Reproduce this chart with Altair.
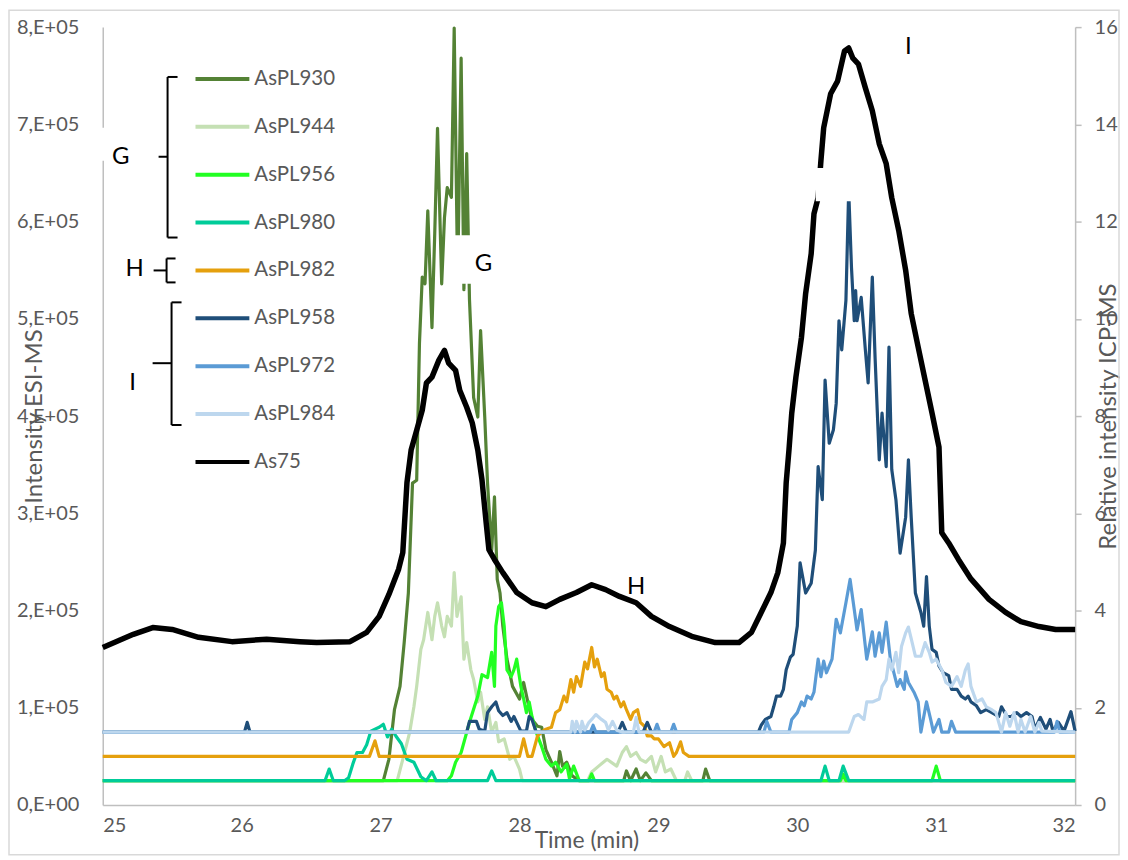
import altair as alt
import pandas as pd

# retention time (min) and ESI-MS intensity (thousands of counts)
t930 = [25.00, 27.02, 27.06, 27.10, 27.14, 27.17, 27.20, 27.23, 27.26, 27.28, 27.30, 27.32, 27.34,
        27.37, 27.39, 27.41, 27.44, 27.46, 27.48, 27.51, 27.53, 27.555, 27.58, 27.60, 27.62, 27.64,
        27.67, 27.70, 27.72, 27.75, 27.77, 27.80, 27.82, 27.84, 27.86, 27.88, 27.91, 27.95, 28.00,
        28.03, 28.06, 28.09, 28.13, 28.16, 28.19, 28.23, 28.27, 28.29, 28.31, 28.34, 28.38, 28.43,
        28.75, 28.77, 28.80, 28.84, 28.87, 28.91, 28.95, 29.32, 29.34, 29.37, 32.00]
v930 = [25, 25, 47, 98, 122, 167, 218, 331, 334, 475, 543, 536, 611, 491, 588, 696, 536, 604, 635,
        625, 799, 540, 768, 530, 670, 520, 419, 399, 488, 399, 331, 262, 317, 232, 218, 184, 150,
        122, 109, 126, 106, 88, 81, 80, 57, 44, 30, 55, 40, 44, 30, 25, 25, 35, 25, 37, 25, 33, 25,
        25, 37, 25, 25]

t944 = [25.00, 27.12, 27.16, 27.21, 27.24, 27.26, 27.29, 27.31, 27.34, 27.37, 27.39, 27.41, 27.44,
        27.46, 27.48, 27.51, 27.53, 27.55, 27.58, 27.60, 27.62, 27.65, 27.67, 27.70, 27.72, 27.75,
        27.77, 27.80, 27.83, 27.85, 27.89, 27.93, 27.96, 28.00, 28.02, 28.49, 28.52, 28.57, 28.63,
        28.70, 28.74, 28.77, 28.80, 28.84, 28.87, 28.91, 28.95, 28.98, 29.02, 29.05, 29.09, 29.13,
        29.19, 29.21, 29.24, 32.00]
v944 = [25, 25, 47, 75, 101, 122, 160, 170, 198, 170, 194, 208, 184, 173, 194, 184, 239, 194, 214,
        150, 167, 139, 129, 106, 116, 88, 101, 75, 85, 65, 68, 47, 50, 37, 25, 25, 34, 40, 47, 40,
        54, 60, 50, 54, 47, 44, 50, 34, 50, 34, 37, 25, 25, 34, 25, 25]

t956 = [25.00, 27.48, 27.51, 27.54, 27.58, 27.64, 27.70, 27.73, 27.77, 27.80, 27.82, 27.83, 27.85,
        27.87, 27.89, 27.91, 27.94, 27.96, 27.98, 28.01, 28.03, 28.05, 28.07, 28.09, 28.12, 28.16,
        28.19, 28.23, 28.26, 28.30, 28.34, 28.36, 28.39, 28.43, 28.50, 28.52, 28.54, 30.31, 30.33,
        30.35, 30.97, 31.00, 31.03, 32.00]
v956 = [25, 25, 30, 44, 54, 85, 112, 134, 131, 157, 122, 184, 204, 208, 184, 139, 132, 139, 150,
        122, 109, 95, 106, 91, 75, 60, 47, 40, 44, 34, 42, 27, 40, 25, 25, 32, 25, 25, 32, 25, 25,
        40, 25, 25]

t980 = [25.00, 26.60, 26.63, 26.66, 26.74, 26.77, 26.80, 26.83, 26.87, 26.90, 26.93, 26.96, 26.99,
        27.02, 27.05, 27.08, 27.11, 27.15, 27.19, 27.24, 27.29, 27.33, 27.37, 27.40, 27.77, 27.80,
        27.83, 30.17, 30.20, 30.23, 30.30, 30.33, 30.37, 32.00]
v980 = [25, 25, 37, 25, 25, 28, 42, 54, 54, 62, 76, 78, 80, 83, 70, 78, 71, 63, 47, 44, 29, 25, 34,
        25, 25, 35, 25, 25, 40, 25, 25, 40, 25, 25]

t982 = [25.00, 26.92, 26.96, 26.99, 28.00, 28.03, 28.06, 28.09, 28.13, 28.16, 28.19, 28.23, 28.26,
        28.29, 28.32, 28.34, 28.37, 28.39, 28.41, 28.44, 28.47, 28.49, 28.52, 28.54, 28.56, 28.59,
        28.61, 28.63, 28.66, 28.68, 28.70, 28.73, 28.75, 28.77, 28.80, 28.82, 28.85, 28.87, 28.90,
        28.92, 28.95, 28.97, 29.00, 29.04, 29.08, 29.11, 29.13, 29.16, 29.18, 29.22, 32.00]
v982 = [50, 50, 66, 50, 50, 68, 50, 50, 71, 75, 78, 80, 95, 98, 112, 106, 129, 116, 132, 122, 147,
        140, 162, 142, 150, 132, 136, 119, 116, 109, 112, 101, 106, 98, 88, 95, 98, 85, 81, 71, 71,
        68, 68, 60, 64, 50, 54, 65, 54, 50, 50]

t958 = [25.00, 26.02, 26.04, 26.06, 27.62, 27.64, 27.69, 27.71, 27.75, 27.77, 27.80, 27.83, 27.85,
        27.88, 27.91, 27.94, 27.96, 27.98, 28.01, 28.05, 28.07, 28.09, 28.12, 28.71, 28.74, 28.77,
        28.89, 28.92, 28.95, 29.72, 29.74, 29.77, 29.81, 29.83, 29.85, 29.88, 29.90, 29.92, 29.95,
        29.97, 30.00, 30.02, 30.06, 30.10, 30.13, 30.15, 30.18, 30.20, 30.23, 30.26, 30.28, 30.30,
        30.32, 30.35, 30.37, 30.39, 30.41, 30.42, 30.43, 30.46, 30.49, 30.51, 30.54, 30.56, 30.59,
        30.61, 30.64, 30.66, 30.68, 30.71, 30.74, 30.78, 30.80, 30.82, 30.85, 30.89, 30.91, 30.93,
        30.95, 30.97, 31.00, 31.02, 31.05, 31.09, 31.11, 31.15, 31.18, 31.21, 31.23, 31.25, 31.29,
        31.32, 31.36, 31.40, 31.45, 31.47, 31.51, 31.54, 31.58, 31.61, 31.65, 31.69, 31.71, 31.75,
        31.79, 31.82, 31.84, 31.88, 31.92, 31.97, 32.00]
v958 = [75, 75, 85, 75, 75, 86, 86, 78, 76, 95, 101, 106, 97, 92, 95, 86, 91, 85, 76, 76, 91, 88,
        75, 75, 85, 75, 75, 85, 75, 75, 82, 88, 91, 101, 112, 112, 119, 139, 152, 155, 184, 249,
        218, 228, 262, 348, 314, 437, 372, 386, 413, 498, 468, 519, 632, 553, 498, 529, 498, 522,
        468, 434, 543, 460, 355, 403, 348, 471, 345, 314, 259, 296, 355, 296, 218, 198, 184, 235,
        184, 160, 157, 143, 136, 133, 119, 119, 112, 109, 112, 106, 102, 95, 98, 95, 91, 101, 91,
        91, 95, 91, 95, 91, 78, 90, 78, 88, 76, 85, 76, 96, 76]

t972 = [25.00, 28.51, 28.53, 28.55, 28.97, 28.99, 29.01, 29.09, 29.11, 29.13, 29.76, 29.78, 29.81,
        29.94, 29.96, 30.00, 30.03, 30.05, 30.07, 30.10, 30.12, 30.15, 30.17, 30.19, 30.21, 30.25,
        30.28, 30.31, 30.35, 30.38, 30.41, 30.43, 30.46, 30.50, 30.54, 30.56, 30.59, 30.61, 30.64,
        30.67, 30.69, 30.72, 30.74, 30.77, 30.78, 30.80, 30.84, 30.87, 30.89, 30.93, 30.96, 30.98,
        31.02, 31.04, 31.09, 31.11, 31.14, 31.85, 31.87, 31.89, 32.00]
v972 = [75, 75, 82, 75, 75, 83, 75, 75, 83, 75, 75, 86, 75, 75, 88, 95, 106, 102, 112, 109, 116,
        150, 132, 148, 136, 150, 191, 177, 208, 232, 201, 180, 201, 150, 178, 153, 177, 157, 188,
        150, 139, 122, 129, 119, 137, 126, 116, 106, 75, 106, 88, 75, 88, 75, 75, 86, 75, 75, 86,
        75, 75]

t984 = [25.00, 28.37, 28.38, 28.40, 28.41, 28.44, 28.45, 28.47, 28.50, 28.52, 28.55, 28.59, 28.62,
        28.64, 28.67, 28.70, 28.74, 28.82, 28.84, 28.86, 30.37, 30.41, 30.44, 30.48, 30.50, 30.54,
        30.59, 30.61, 30.64, 30.66, 30.68, 30.71, 30.73, 30.75, 30.78, 30.80, 30.82, 30.85, 30.89,
        30.92, 30.95, 30.97, 31.00, 31.04, 31.07, 31.11, 31.15, 31.18, 31.21, 31.23, 31.25, 31.29,
        31.33, 31.36, 31.40, 31.43, 31.47, 31.50, 31.53, 31.56, 31.59, 31.61, 31.64, 31.68, 31.71,
        31.74, 31.76, 32.00]
v984 = [75, 75, 86, 75, 86, 75, 86, 77, 85, 88, 93, 88, 85, 77, 86, 77, 75, 75, 90, 75, 75, 91, 93,
        88, 106, 106, 109, 122, 129, 150, 139, 157, 136, 163, 177, 183, 171, 153, 153, 167, 157,
        147, 150, 139, 126, 122, 132, 122, 139, 145, 122, 106, 109, 101, 98, 95, 75, 95, 81, 95,
        75, 88, 75, 91, 75, 85, 76, 75]

# As75 on the ICP-MS (relative intensity) axis
t75 = [25.00, 25.22, 25.36, 25.50, 25.69, 25.93, 26.18, 26.42, 26.54, 26.78, 26.90, 26.99, 27.06,
       27.13, 27.16, 27.19, 27.22, 27.26, 27.30, 27.33, 27.37, 27.42, 27.46, 27.49, 27.54, 27.57,
       27.62, 27.66, 27.70, 27.73, 27.76, 27.78, 27.82, 27.88, 27.98, 28.09, 28.19, 28.29, 28.41,
       28.52, 28.62, 28.72, 28.84, 28.95, 29.08, 29.24, 29.41, 29.58, 29.67, 29.74, 29.81, 29.86,
       29.90, 29.92, 29.94, 29.96, 29.99, 30.03, 30.06, 30.10, 30.12, 30.15, 30.17, 30.19, 30.24,
       30.29, 30.34, 30.37, 30.40, 30.44, 30.49, 30.54, 30.59, 30.64, 30.68, 30.73, 30.78, 30.82,
       30.87, 30.92, 30.97, 31.02, 31.04, 31.09, 31.16, 31.25, 31.38, 31.50, 31.61, 31.74, 31.86,
       32.00]
v75 = [3.24, 3.51, 3.65, 3.61, 3.45, 3.36, 3.41, 3.36, 3.34, 3.36, 3.55, 3.88, 4.33, 4.85, 5.19,
       6.63, 7.30, 7.71, 8.12, 8.68, 8.80, 9.15, 9.35, 9.09, 8.94, 8.53, 8.18, 7.86, 7.30, 6.69,
       5.81, 5.25, 5.05, 4.78, 4.37, 4.16, 4.08, 4.23, 4.37, 4.53, 4.43, 4.29, 4.16, 3.88, 3.67,
       3.47, 3.34, 3.34, 3.55, 3.96, 4.37, 4.78, 5.39, 6.63, 7.30, 8.06, 8.80, 9.62, 10.52, 11.34,
       12.16, 12.49, 13.25, 13.93, 14.63, 14.89, 15.51, 15.57, 15.36, 15.24, 14.75, 14.28, 13.60,
       13.19, 12.49, 11.82, 11.00, 10.11, 9.42, 8.74, 8.06, 7.36, 5.60, 5.39, 5.05, 4.65, 4.23,
       3.96, 3.77, 3.67, 3.61, 3.61]

series = ["AsPL930", "AsPL944", "AsPL956", "AsPL980", "AsPL982",
          "AsPL958", "AsPL972", "AsPL984", "As75"]
colors = ["#548235", "#C5E0B4", "#22FF22", "#00CC99", "#E5A00D",
          "#1F4E79", "#5B9BD5", "#BDD7EE", "#000000"]
esi = {
    "AsPL930": (t930, v930), "AsPL944": (t944, v944), "AsPL956": (t956, v956),
    "AsPL980": (t980, v980), "AsPL982": (t982, v982), "AsPL958": (t958, v958),
    "AsPL972": (t972, v972), "AsPL984": (t984, v984),
}

# peak group labels (time, ESI intensity)
peak_labels = ["G", "H", "I"]
peak_t = [27.74, 28.84, 30.80]
peak_v = [556000, 224000, 780000]

FONT = "Lato"
GREY = "#595959"
AXIS_GREY = "#BFBFBF"
W, H = 975, 780

x_enc = alt.X("t:Q", scale=alt.Scale(domain=[25, 32], nice=False, zero=False),
              axis=alt.Axis(values=list(range(25, 33)), grid=False, ticks=False, tickSize=0,
                            domainColor=AXIS_GREY, domainWidth=1.5, labelFont=FONT,
                            labelFontSize=20, labelColor=GREY, labelPadding=11,
                            title="Time (min)", titleFont=FONT, titleFontSize=23,
                            titleFontWeight="normal", titleColor=GREY, titleX=485, titleY=36,
                            titleBaseline="middle", titleAlign="center"))

y_left = alt.Y("v:Q", scale=alt.Scale(domain=[0, 800000], nice=False),
               axis=alt.Axis(values=[i * 100000 for i in range(9)], grid=False, ticks=False,
                             tickSize=0, domainColor=AXIS_GREY, domainWidth=1.5,
                             labelExpr="datum.value == 0 ? '0,E+00' : format(datum.value / 100000, 'd') + ',E+05'",
                             labelFont=FONT, labelFontSize=20, labelColor=GREY, labelPadding=24,
                             title="Intensity ESI-MS", titleFont=FONT, titleFontSize=24,
                             titleFontWeight="normal", titleColor=GREY, titleAngle=270,
                             titleX=-68, titleY=390, titleBaseline="middle", titleAlign="center"))

y_right = alt.Y("r:Q", scale=alt.Scale(domain=[0, 16], nice=False),
                axis=alt.Axis(orient="right", values=list(range(0, 17, 2)), grid=False,
                              tickSize=6, tickColor=AXIS_GREY, tickWidth=1.5,
                              domainColor=AXIS_GREY, domainWidth=1.5, labelFont=FONT,
                              labelFontSize=20, labelColor=GREY, labelPadding=13,
                              title="Relative intensity ICP-MS", titleFont=FONT,
                              titleFontSize=24, titleFontWeight="normal", titleColor=GREY,
                              titleAngle=270, titleX=33, titleY=390, titleBaseline="middle",
                              titleAlign="center"))

y_annot = alt.Y("v:Q", scale=alt.Scale(domain=[0, 800000], nice=False), axis=None)
y_annot2 = alt.Y2("v2:Q")

# ESI-MS traces, one layer each so the drawing order follows the legend
esi_layers = []
for name, color in zip(series[:-1], colors[:-1]):
    t, v = esi[name]
    df = pd.DataFrame({"t": t, "v": [k * 1000 for k in v]})
    esi_layers.append(
        alt.Chart(df).mark_line(color=color, strokeWidth=3.2, strokeJoin="round")
        .encode(x=x_enc, y=y_left)
    )
left = alt.layer(*esi_layers)

icp = alt.Chart(pd.DataFrame({"t": t75, "r": v75})).mark_line(
    color="black", strokeWidth=5.5, strokeJoin="round"
).encode(x=x_enc, y=y_right)

# white label boxes that hide the lines behind them, as in the original
boxes = pd.DataFrame({"t": [27.52, 30.133], "t2": [27.96, 30.44],
                      "v": [536000, 621000], "v2": [586000, 655000]})
box_layer = alt.Chart(boxes).mark_rect(color="white").encode(
    x=x_enc, x2="t2:Q", y=y_annot, y2=y_annot2)

peak_df = pd.DataFrame({"t": peak_t, "v": peak_v, "label": peak_labels})
peak_text = alt.Chart(peak_df).mark_text(font=FONT, fontSize=24, color="black",
                                          align="center", baseline="middle").encode(
    x=x_enc, y=y_annot, text="label:N")

# legend in the top-left corner (pixel positions inside the plot)
legend_df = pd.DataFrame({"name": series, "py": [52 + 48 * i for i in range(len(series))]})
legend_lines = alt.Chart(legend_df).mark_rule(strokeWidth=4).encode(
    x=alt.value(93), x2=alt.value(147),
    y=alt.Y("py:Q", scale=None),
    color=alt.Color("name:N", scale=alt.Scale(domain=series, range=colors), legend=None))
legend_text = alt.Chart(legend_df).mark_text(font=FONT, fontSize=20.5, color=GREY,
                                             align="left", baseline="middle").encode(
    x=alt.value(152), y=alt.Y("py:Q", scale=None), text="name:N")

# group braces next to the legend
braces = pd.DataFrame({
    "x": [65, 65, 65, 56, 64, 64, 64, 51, 69, 69, 69, 50],
    "x2": [65, 75, 75, 65, 64, 73, 73, 64, 69, 79, 79, 69],
    "y": [50, 50, 211, 130, 232, 232, 256, 244, 276, 276, 399, 337],
    "y2": [211, 50, 211, 130, 256, 232, 256, 244, 399, 276, 399, 337],
})
brace_layer = alt.Chart(braces).mark_rule(color="black", strokeWidth=2).encode(
    x=alt.X("x:Q", scale=None), x2="x2:Q", y=alt.Y("y:Q", scale=None), y2="y2:Q")

brace_bg = alt.Chart(pd.DataFrame({"x": [-8], "x2": [42], "y": [101], "y2": [134]})).mark_rect(
    color="white").encode(x=alt.X("x:Q", scale=None), x2="x2:Q",
                          y=alt.Y("y:Q", scale=None), y2="y2:Q")

brace_labels = pd.DataFrame({"label": peak_labels, "x": [18, 32, 30], "y": [130, 243, 357]})
brace_text = alt.Chart(brace_labels).mark_text(font=FONT, fontSize=24, color="black",
                                               align="center", baseline="middle").encode(
    x=alt.X("x:Q", scale=None), y=alt.Y("y:Q", scale=None), text="label:N")

frame = alt.Chart(pd.DataFrame({"x": [-94], "x2": [1019], "y": [-17], "y2": [830]})).mark_rect(
    filled=False, stroke="#D9D9D9", strokeWidth=1.5).encode(
    x=alt.X("x:Q", scale=None), x2="x2:Q", y=alt.Y("y:Q", scale=None), y2="y2:Q")

annot = alt.layer(box_layer, peak_text, brace_bg, brace_layer, brace_text,
                  legend_lines, legend_text, frame)

chart = alt.layer(left, icp, annot).resolve_scale(y="independent").properties(
    width=W, height=H,
    autosize=alt.AutoSizeParams(type="none"),
    padding={"left": 95, "top": 18, "right": 45, "bottom": 54},
    background="white",
).configure_view(stroke=None)

chart.save("out.html", embed_options={"renderer": "svg", "actions": False})
